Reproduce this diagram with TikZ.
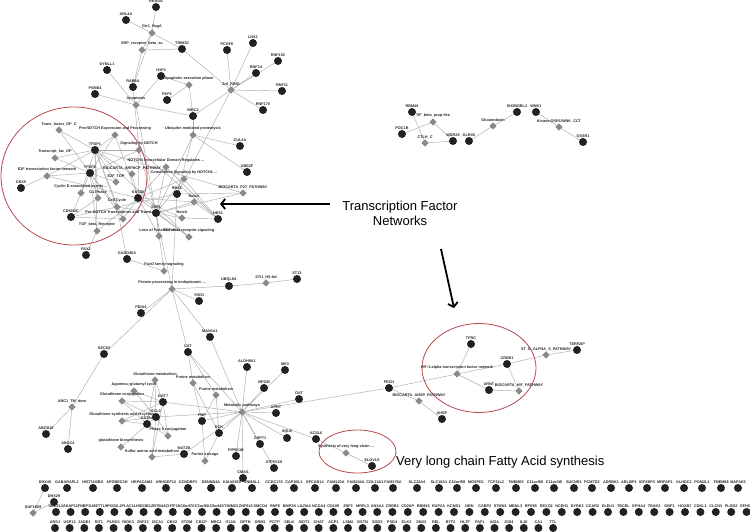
\documentclass[tikz,border=0pt]{standalone}
\usepackage{fontspec}
\setmainfont{Liberation Sans}
\usetikzlibrary{shapes.geometric,arrows.meta}
\pgfdeclarelayer{bg}
\pgfsetlayers{bg,main}
\definecolor{ringred}{RGB}{185,70,75}
\tikzset{
 gene/.style={circle,fill=black!87,minimum size=8pt,inner sep=0pt,label distance=0.2pt},
 pway/.style={diamond,fill=black!46,minimum size=7.6pt,inner sep=0pt,label distance=-0.8pt},
 lbl/.style={font=\fontsize{3.8}{4}\selectfont\bfseries,text=black!85,inner sep=0.3pt},
 edge/.style={draw=black!33,line width=0.45pt},
 ring/.style={draw=ringred,line width=0.8pt},
 bigarrow/.style={line width=1.8pt,-{Straight Barb[length=4pt,width=10pt]}},
 bigtext/.style={font=\fontsize{13}{15}\selectfont,align=center,inner sep=0pt}
}
\newcommand\GeneNode[4]{\node[gene,label={[lbl]above:#4}] (#1) at (#2,#3) {};}
\newcommand\PathNode[4]{\node[pway,label={[lbl]above:#4}] (#1) at (#2,#3) {};}
\begin{document}
\begin{tikzpicture}[x=1pt,y=-1pt]
\useasboundingbox (0,0) rectangle (750,532);
% ---------- red rings
\draw[ring] (74,176) ellipse [x radius=73, y radius=69];
\draw[ring] (479,368) ellipse [x radius=57, y radius=44.5];
\draw[ring] (357.5,451.5) ellipse [x radius=38.5, y radius=21.5];
% ---------- genes
\GeneNode{RRAGA}{156}{7}{RRAGA}
\GeneNode{ARL4A}{126}{20}{ARL4A}
\GeneNode{TRIM33}{182}{49}{TRIM33}
\GeneNode{DYNLL1}{107}{70}{DYNLL1}
\GeneNode{H1F0}{161}{76}{H1F0}
\GeneNode{RAB8A}{133}{87}{RAB8A}
\GeneNode{PSME4}{95}{94}{PSME4}
\GeneNode{PKP1}{167}{100}{PKP1}
\GeneNode{BIRC2}{193}{116}{BIRC2}
\GeneNode{PCGF6}{227}{50}{PCGF6}
\GeneNode{LNX2}{253}{43}{LNX2}
\GeneNode{RNF152}{278}{61}{RNF152}
\GeneNode{RNF14}{256}{73}{RNF14}
\GeneNode{RNF11}{282}{91}{RNF11}
\GeneNode{RNF170}{263}{110}{RNF170}
\GeneNode{CUL4A}{240}{146}{CUL4A}
\GeneNode{UBE2F}{247}{172}{UBE2F}
\GeneNode{TFDP1}{95}{150}{TFDP1}
\GeneNode{TFDP2}{90}{173}{TFDP2}
\GeneNode{CBX5}{21}{188}{CBX5}
\GeneNode{KAT2B}{138}{198}{KAT2B}
\GeneNode{RBX1}{177}{194}{RBX1}
\GeneNode{SKP1}{156}{213}{SKP1}
\GeneNode{CDKN2C}{71}{217}{CDKN2C}
\GeneNode{HES1}{218}{219}{HES1}
\GeneNode{PAX2}{86}{255}{PAX2}
\GeneNode{GADD45A}{127}{259}{GADD45A}
\GeneNode{UBQLN1}{229}{286}{UBQLN1}
\GeneNode{ST13}{297}{279}{ST13}
\GeneNode{YOD1}{199}{301}{YOD1}
\GeneNode{PDIA4}{141}{313}{PDIA4}
\GeneNode{MAN1A1}{210}{337}{MAN1A1}
\GeneNode{SEC63}{104}{354}{SEC63}
\GeneNode{CAT}{188}{352}{CAT}
\GeneNode{ALDH9A1}{247}{367}{ALDH9A1}
\GeneNode{ME3}{285}{370}{ME3}
\GeneNode{BPGM}{264}{388}{BPGM}
\GeneNode{OAT}{299}{399}{OAT}
\GeneNode{APRT}{276}{413}{APRT}
\GeneNode{GGT7}{163}{402}{GGT7}
\GeneNode{GCLC}{156}{417}{GCLC}
\GeneNode{GSTA4}{147}{424}{GSTA4}
\GeneNode{PNP}{202}{421}{PNP}
\GeneNode{DCK}{219}{433}{DCK}
\GeneNode{SQLE}{287}{438}{SQLE}
\GeneNode{ACSL6}{316}{439}{ACSL6}
\GeneNode{CHPT1}{260}{444}{CHPT1}
\GeneNode{PIP5K1B}{236}{456}{PIP5K1B}
\GeneNode{MAT2B}{184}{454}{MAT2B}
\GeneNode{ATP6V1D}{274}{468}{ATP6V1D}
\GeneNode{CMAS}{243}{478}{CMAS}
\GeneNode{ELOVL6}{372}{466}{ELOVL6}
\GeneNode{ABCB10}{46}{434}{ABCB10}
\GeneNode{ABCC4}{68}{449}{ABCC4}
\GeneNode{FECH}{389}{388}{FECH}
\GeneNode{AHSP}{442}{419}{AHSP}
\GeneNode{TFRC}{471}{344}{TFRC}
\GeneNode{CREB1}{507}{364}{CREB1}
\GeneNode{ARNT}{489}{390}{ARNT}
\GeneNode{TERF2IP}{577}{350}{TERF2IP}
\GeneNode{RBM46}{412}{112}{RBM46}
\GeneNode{POC1B}{402}{134}{POC1B}
\GeneNode{WDR26}{453}{141}{WDR26}
\GeneNode{GLRX5}{469}{141}{GLRX5}
\GeneNode{SH3BGRL3}{517}{112}{SH3BGRL3}
\GeneNode{WNK1}{536}{112}{WNK1}
\GeneNode{OXSR1}{583}{142}{OXSR1}
\GeneNode{DHX29}{54}{502}{DHX29}
% ---------- pathways / domains
\PathNode{Gtr}{152}{33}{Gtr1\_RagA}
\PathNode{SRP}{142}{50}{SRP\_receptor\_beta\_su}
\PathNode{ApopExec}{189}{85}{Apoptotic execution phase}
\PathNode{Znf}{231}{90}{Znf\_RING}
\PathNode{Apop}{136}{105}{Apoptosis}
\PathNode{TfDPC}{59}{130}{Trans\_factor\_DP\_C}
\PathNode{PNExp}{115}{135}{Pre-NOTCH Expression and Processing}
\PathNode{Ubiq}{193}{135}{Ubiquitin mediated proteolysis}
\PathNode{SigN}{139}{150}{Signaling by NOTCH}
\PathNode{TfDP}{55}{158}{Transcript\_fac\_DP}
\PathNode{NICD}{166}{167}{NOTCH1 Intracellular Domain Regulates ...}
\PathNode{BioArf}{132}{174}{BIOCARTA\_ARFBCP\_PATHWAY}
\PathNode{CSN}{184}{179}{Constitutive Signaling by NOTCH1 ...}
\PathNode{E2Fnet}{47}{176}{E2F transcription factor network}
\PathNode{E2FTDP}{116}{182}{E2F\_TDP}
\PathNode{CycD}{81}{193}{Cyclin D associated events ...}
\PathNode{Gone}{98}{198}{G1 Phase}
\PathNode{BioP}{243}{193}{BIOCARTA\_P27\_PATHWAY}
\PathNode{NotchA}{194}{202}{Notch}
\PathNode{CellC}{117}{207}{Cell Cycle}
\PathNode{NotchB}{182}{218}{Notch}
\PathNode{PNTT}{123}{219}{Pre-NOTCH Transcription and Translation}
\PathNode{TGFbR}{97}{231}{TGF\_beta\_Receptor}
\PathNode{LoF}{159}{236}{Loss of Function of ...}
\PathNode{TGFsig}{189}{237}{TGF-beta receptor signaling}
\PathNode{FoxO}{164}{271}{FoxO family signaling}
\PathNode{ProtP}{172}{289}{Protein processing in endoplasmic ...}
\PathNode{STIone}{266}{283}{STI1\_HS-bd}
\PathNode{GlutMet}{155}{380}{Glutathione metabolism}
\PathNode{PurA}{193}{383}{Purine metabolism}
\PathNode{PurB}{216}{395}{Purine metabolism}
\PathNode{GGC}{134}{391}{\&gamma;-glutamyl cycle}
\PathNode{GConj}{122}{401}{Glutathione conjugation}
\PathNode{GSR}{122}{421}{Glutathione synthesis and recycling}
\PathNode{PhaseII}{168}{436}{Phase II conjugation}
\PathNode{GBio}{121}{447}{glutathione biosynthesis}
\PathNode{Sulfur}{152}{457}{Sulfur amino acid metabolism}
\PathNode{MetP}{242}{412}{Metabolic pathways}
\PathNode{PurS}{205}{461}{Purine salvage}
\PathNode{VLC}{346}{453}{Synthesis of very long-chain ...}
\PathNode{ABCone}{72}{407}{ABC1\_TM\_dom}
\PathNode{HIF}{457}{374}{HIF-1-alpha transcription factor network}
\PathNode{StG}{546}{355}{ST\_G\_ALPHA\_S\_PATHWAY}
\PathNode{BioHIF}{519}{391}{BIOCARTA\_HIF\_PATHWAY}
\PathNode{BioAHSP}{419}{401}{BIOCARTA\_AHSP\_PATHWAY}
\PathNode{TIFb}{433}{122}{TIF\_beta\_prop-like}
\PathNode{CTLH}{425}{143}{CTLH\_C}
\PathNode{Glrx}{493}{126}{Glutaredoxin}
\PathNode{Kin}{559}{127}{Kinase-OSR1/WNK\_CCT}
\PathNode{DUF}{33}{513}{DUF1669}
% ---------- unconnected gene rows
\foreach \x/\n [count=\i] in {45/DHX40,67/GABARAPL2,93/HIST1H2BG,117/APOBEC3H,142/HEPACAM2,166/ARHGEF12,188/CCNDBP1,211/DENND4A,232/KIAA0930,252/SNMAL1,274/CCDC176,294/CAP1BL1,315/EFCAB14,336/FAM120A,356/FAM104A,375/COL13A1,393/FAM178A,417/SLC22A4,439/SLC16A1,457/C10orf99,476/MOSPD1,496/TCP11L2,516/TMEM65,535/C11orf68,554/C11orf49,574/SUCNR1,592/PCMTD2,611/ADRBK1,629/ARL6IP1,647/IGF2BP3,665/MRPAP1,684/KLHDC2,702/PGM2L1,721/TMEM98,738/MAP4K5}
  {\node[gene,label={[lbl]above:\n}] (ra\i) at (\x,488) {};}
\foreach \n [count=\i] in {UBE2L3,AKAP11,FNBP1L,METTL9,PKD2L1,PLAC1L,HSD3B1,ZBTB44,CHTF18,C6orf70,C3orf60,C9orf40,TIMM23,ZNF616,SMCO4,RNF6,BMP2K,LILRA4,NCOA4,CD109,ZNF3,MRPL3,ANXA4,CREB3,CD2AP,RBM15,RAP2A,KCND1,NBN,CABP2,STMN1,MBNL3,RPE65,REXO2,NCEH1,DYRK2,CCAR2,DLEU1,TBCEL,EPHA4,TRAK2,GBP1,HOXB7,CDKL1,CLCN3,PLOD2,EFHC1}
  {\pgfmathsetmacro\xx{\i<24 ? 56+14.6*(\i-1) : 377+15.4*(\i-23)}
   \node[gene,label={[lbl]above:\n}] (rb\i) at (\xx,512) {};}
\foreach \n [count=\i] in {ARSJ,USP12,JADE1,RIT1,PLRG1,RIOK3,ZNF23,ISCA1,CBX2,STOM,CRCP,MRC2,ITLN1,OPTN,ORM1,PCTP,SELK,SIDT1,CHAT,ACP1,LSM4,DSTN,SOD3,PSD4,ELK3,SNX3,REL,BTF3,HLTF,PAF1,AIDA,GID4,IL16,CA1,TTL}
  {\pgfmathsetmacro\xx{55+14.65*(\i-1)}
   \node[gene,label={[lbl]above:\n}] (rc\i) at (\xx,528) {};}
% ---------- connectors
\begin{pgfonlayer}{bg}
\foreach \a/\b in {
 RRAGA/Gtr, ARL4A/Gtr, Gtr/TRIM33, Gtr/SRP, SRP/TRIM33, SRP/RAB8A, Gtr/RAB8A,
 TRIM33/Znf, PCGF6/Znf, LNX2/Znf, RNF152/Znf, RNF14/Znf, RNF11/Znf, RNF170/Znf, BIRC2/Znf, RBX1/Znf,
 H1F0/ApopExec, PKP1/ApopExec, BIRC2/ApopExec,
 H1F0/Apop, DYNLL1/Apop, PSME4/Apop, BIRC2/Apop, SKP1/Apop, RAB8A/SigN,
 Ubiq/BIRC2, Ubiq/CUL4A, Ubiq/UBE2F, Ubiq/RBX1, Ubiq/SKP1,
 TfDPC/TFDP1, TfDPC/TFDP2, TfDP/TFDP1, TfDP/TFDP2,
 E2Fnet/TFDP1, E2Fnet/TFDP2, E2Fnet/CBX5, E2Fnet/KAT2B,
 E2FTDP/TFDP1, E2FTDP/TFDP2,
 CycD/TFDP1, CycD/TFDP2, CycD/CDKN2C,
 Gone/TFDP1, Gone/TFDP2, Gone/CDKN2C,
 CellC/TFDP1, CellC/TFDP2, CellC/CDKN2C, CellC/SKP1, CellC/RBX1, CellC/GADD45A,
 PNExp/TFDP1, PNExp/TFDP2, PNExp/KAT2B,
 PNTT/TFDP1, PNTT/TFDP2, PNTT/KAT2B, PNTT/CDKN2C,
 SigN/TFDP1, SigN/TFDP2, SigN/KAT2B, SigN/SKP1, SigN/HES1,
 BioArf/TFDP1, BioArf/KAT2B,
 NICD/KAT2B, NICD/SKP1, NICD/HES1,
 CSN/KAT2B, CSN/SKP1, CSN/HES1,
 NotchA/KAT2B, NotchA/SKP1, NotchA/HES1,
 NotchB/SKP1, NotchB/HES1, NotchB/KAT2B,
 BioP/SKP1, BioP/RBX1, BioP/TFDP1,
 TGFbR/TFDP1, TGFbR/TFDP2, TGFbR/KAT2B, TGFbR/PAX2,
 LoF/SKP1, LoF/KAT2B, TGFsig/SKP1, TGFsig/KAT2B, TGFsig/TFDP1,
 FoxO/GADD45A, FoxO/SKP1,
 ProtP/SKP1, ProtP/RBX1, ProtP/UBQLN1, ProtP/YOD1, ProtP/PDIA4, ProtP/SEC63, ProtP/MAN1A1, ProtP/CAT,
 STIone/UBQLN1, STIone/ST13,
 SEC63/ABCone, ABCone/ABCB10, ABCone/ABCC4,
 GlutMet/GGT7, GlutMet/GCLC, GlutMet/GSTA4,
 GGC/GGT7, GGC/GCLC,
 GConj/GGT7, GConj/GCLC, GConj/GSTA4,
 GSR/GGT7, GSR/GCLC, GSR/GSTA4,
 PhaseII/GGT7, PhaseII/GCLC, PhaseII/GSTA4,
 GBio/GCLC,
 Sulfur/GGT7, Sulfur/GCLC, Sulfur/MAT2B,
 MetP/GGT7, MetP/GCLC, MetP/MAT2B, MetP/CAT, MetP/ALDH9A1, MetP/ME3, MetP/BPGM, MetP/OAT, MetP/APRT,
 MetP/PNP, MetP/DCK, MetP/SQLE, MetP/ACSL6, MetP/CHPT1, MetP/ATP6V1D, MetP/PIP5K1B, MetP/CMAS, MetP/FECH, MetP/MAN1A1,
 PurA/CAT, PurA/PNP, PurA/DCK, PurB/CAT, PurB/PNP, PurB/DCK,
 PurS/PNP, PurS/DCK,
 VLC/ACSL6, VLC/ELOVL6,
 HIF/TFRC, HIF/ARNT, HIF/CREB1, HIF/FECH, BioHIF/ARNT, BioHIF/CREB1, StG/CREB1, StG/TERF2IP,
 BioAHSP/FECH, BioAHSP/AHSP,
 TIFb/POC1B, TIFb/WDR26, CTLH/RBM46, CTLH/WDR26, Glrx/GLRX5, Glrx/SH3BGRL3, Kin/WNK1, Kin/OXSR1,
 DUF/ra1, DUF/DHX29}
 {\draw[edge] (\a.center) -- (\b.center);}
\end{pgfonlayer}
% ---------- annotations
\coordinate (a1) at (330,204);
\coordinate (a2) at (220,204);
\coordinate (b1) at (441,249);
\coordinate (b2) at (454,308);
\draw[bigarrow] (a1) -- (a2);
\draw[bigarrow] (b1) -- (b2);
\node[bigtext] (tfn) at (400,213) {Transcription Factor\\Networks};
\node[bigtext,anchor=west] (vlcf) at (396,462) {Very long chain Fatty Acid synthesis};
\end{tikzpicture}
\end{document}
